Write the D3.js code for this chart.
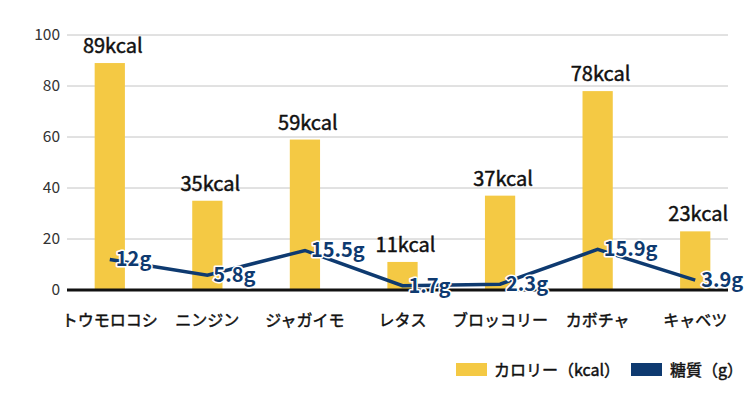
<!DOCTYPE html>
<html>
<head>
<meta charset="utf-8">
<script src="https://cdn.jsdelivr.net/npm/d3@7"></script>
<style>
  body { margin: 0; background: #fff; }
  svg { font-family: "Noto Sans CJK JP", "Noto Sans", sans-serif; }
  .med { stroke: #111; stroke-width: 0.45px; }
</style>
</head>
<body>
<svg width="750" height="393"></svg>
<script>
var categories = ["トウモロコシ", "ニンジン", "ジャガイモ", "レタス", "ブロッコリー", "カボチャ", "キャベツ"];
var calories = [89, 35, 59, 11, 37, 78, 23];
var sugar = [12, 5.8, 15.5, 1.7, 2.3, 15.9, 3.9];
var yTicks = [0, 20, 40, 60, 80, 100];

var yellow = "#f4c944",
    navy = "#0e3a70";

var svg = d3.select("svg");

var data = categories.map(function(c, i) {
  return {name: c, kcal: calories[i], sugar: sugar[i]};
});

var x = d3.scaleBand().domain(categories).range([61, 744]).paddingInner(0.69).paddingOuter(0.345),
    y = d3.scaleLinear().domain([0, 100]).range([290, 35]);

// gridlines
svg.append("g")
  .selectAll("line")
  .data(yTicks.slice(1))
  .enter().append("line")
    .attr("x1", 67).attr("x2", 728)
    .attr("y1", function(d) { return y(d); })
    .attr("y2", function(d) { return y(d); })
    .attr("stroke", "#c4c4c4")
    .attr("stroke-width", 1);

// y tick labels
svg.append("g")
  .selectAll("text")
  .data(yTicks)
  .enter().append("text")
    .attr("x", 60)
    .attr("y", function(d) { return y(d); })
    .attr("dy", "0.35em")
    .attr("text-anchor", "end")
    .style("font-size", "15.5px")
    .style("fill", "#333")
    .text(function(d) { return d; });

// bars
svg.append("g")
  .selectAll("rect")
  .data(data)
  .enter().append("rect")
    .attr("x", function(d) { return x(d.name); })
    .attr("y", function(d) { return y(d.kcal); })
    .attr("width", x.bandwidth())
    .attr("height", function(d) { return y(0) - y(d.kcal); })
    .attr("fill", yellow);

// baseline
svg.append("line")
  .attr("x1", 67).attr("x2", 728)
  .attr("y1", y(0)).attr("y2", y(0))
  .attr("stroke", "#111")
  .attr("stroke-width", 3);

// kcal labels
svg.append("g")
  .selectAll("text")
  .data(data)
  .enter().append("text")
    .attr("class", "med")
    .attr("x", function(d) { return x(d.name) + x.bandwidth() / 2 + 3; })
    .attr("y", function(d) { return y(d.kcal) - 10; })
    .attr("text-anchor", "middle")
    .style("font-size", "20px")
    .style("fill", "#111")
    .text(function(d) { return d.kcal + "kcal"; });

// category labels
svg.append("g")
  .selectAll("text")
  .data(data)
  .enter().append("text")
    .attr("class", "med")
    .attr("x", function(d) { return x(d.name) + x.bandwidth() / 2; })
    .attr("y", 326)
    .attr("text-anchor", "middle")
    .style("font-size", "16px")
    .style("fill", "#111")
    .text(function(d) { return d.name; });

// sugar line
var line = d3.line()
  .x(function(d) { return x(d.name) + x.bandwidth() / 2; })
  .y(function(d) { return y(d.sugar); });

svg.append("path")
  .datum(data)
  .attr("d", line)
  .attr("fill", "none")
  .attr("stroke", navy)
  .attr("stroke-width", 3.5);

svg.append("g")
  .selectAll("text")
  .data(data)
  .enter().append("text")
    .attr("x", function(d) { return x(d.name) + x.bandwidth() / 2 + 6; })
    .attr("y", function(d) { return y(d.sugar); })
    .attr("dy", "0.35em")
    .style("font-size", "20px")
    .style("font-weight", "700")
    .style("fill", navy)
    .style("stroke", "#fff")
    .style("stroke-width", 3)
    .style("paint-order", "stroke")
    .style("stroke-linejoin", "round")
    .text(function(d) { return d.sugar + "g"; });

// legend
var legend = svg.append("g");
legend.append("rect").attr("x", 456).attr("y", 363).attr("width", 31).attr("height", 13).attr("fill", yellow);
legend.append("text").attr("class", "med").attr("x", 494).attr("y", 375.5).style("font-size", "16px").style("fill", "#111").text("カロリー（kcal）");
legend.append("rect").attr("x", 631).attr("y", 363).attr("width", 31).attr("height", 13).attr("fill", navy);
legend.append("text").attr("class", "med").attr("x", 670).attr("y", 375.5).style("font-size", "16px").style("fill", "#111").text("糖質（g）");
</script>
</body>
</html>
